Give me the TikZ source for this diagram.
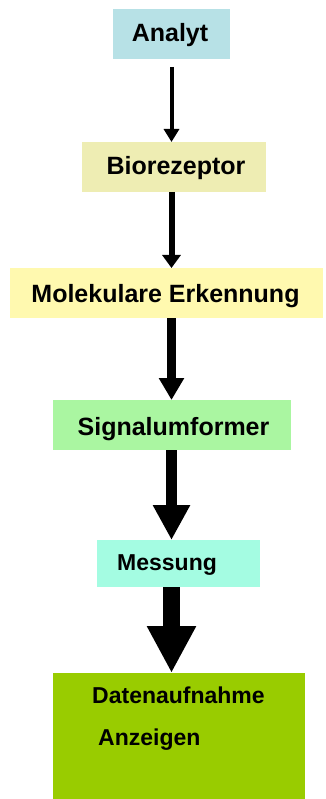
\documentclass[tikz,border=0pt]{standalone}
\usepackage{fontspec}
\setmainfont{Liberation Sans}
\usetikzlibrary{arrows.meta}

\definecolor{cAnalyt}{HTML}{B7E1E6}
\definecolor{cBio}{HTML}{EEEDB3}
\definecolor{cMol}{HTML}{FFF9AF}
\definecolor{cSig}{HTML}{AAF6A1}
\definecolor{cMess}{HTML}{A4FCE2}
\definecolor{cDaten}{HTML}{99CC00}

\begin{document}
\begin{tikzpicture}[x=1pt,y=-1pt,
  box/.style={draw=none, inner sep=0pt, outer sep=0pt, anchor=north west},
  lbl/.style={inner sep=0pt, font=\fontsize{25}{30}\selectfont\bfseries, anchor=base},
  lblsmall/.style={inner sep=0pt, font=\fontsize{23}{28}\selectfont\bfseries, anchor=base west},
  flow/.style={draw=black}
]
\useasboundingbox (0,0) rectangle (325,799);

% vertical axis carrying all connectors
\coordinate (spine) at (171.5,0);

% process boxes
\node[box, fill=cAnalyt, minimum width=117pt, minimum height=50pt] (analyt) at (113,9) {};
\node[box, fill=cBio,    minimum width=184pt, minimum height=50pt] (bio)    at (82,142) {};
\node[box, fill=cMol,    minimum width=313pt, minimum height=50pt] (mol)    at (10,268) {};
\node[box, fill=cSig,    minimum width=238pt, minimum height=50pt] (sig)    at (53,400) {};
\node[box, fill=cMess,   minimum width=163pt, minimum height=47pt] (mess)   at (97,540) {};
\node[box, fill=cDaten,  minimum width=252pt, minimum height=127pt] (daten) at (53,673) {};

% labels
\node[lbl] (tAnalyt) at (170,42)   {Analyt};
\node[lbl] (tBio)    at (176,175)  {Biorezeptor};
\node[lbl] (tMol)    at (165.5,302) {Molekulare Erkennung};
\node[lbl] (tSig)    at (173.5,435) {Signalumformer};
\node[lblsmall] (tMess)  at (117,570) {Messung};
\node[lblsmall] (tDaten) at (92,703)  {Datenaufnahme};
\node[lblsmall] (tAnz)   at (98,745)  {Anzeigen};

% connectors, growing heavier downwards
\draw[flow, line width=4pt, shorten <=8pt, -{Triangle[length=13pt,width=15pt]}]
  (analyt.south -| spine) -- (bio.north -| spine);
\draw[flow, line width=6pt, -{Triangle[length=13pt,width=18pt]}]
  (bio.south -| spine) -- (mol.north -| spine);
\draw[flow, line width=9pt, -{Triangle[length=22pt,width=24pt]}]
  (mol.south -| spine) -- (sig.north -| spine);
\draw[flow, line width=11pt, -{Triangle[length=35pt,width=35pt]}]
  (sig.south -| spine) -- (mess.north -| spine);
\draw[flow, line width=17pt, -{Triangle[length=47pt,width=46pt]}]
  (mess.south -| spine) -- (daten.north -| spine);
\end{tikzpicture}
\end{document}
